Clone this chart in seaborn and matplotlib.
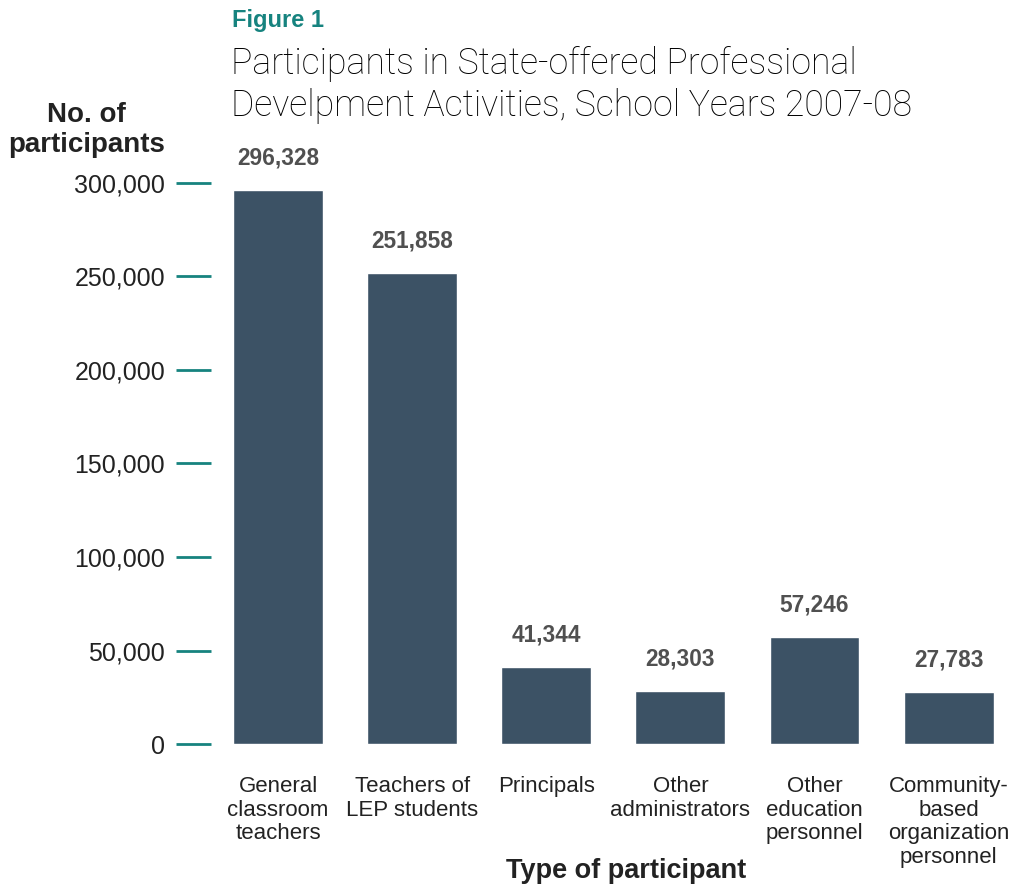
import matplotlib
matplotlib.use("Agg")
import matplotlib.pyplot as plt
import seaborn as sns
import pandas as pd

categories = ["General\nclassroom\nteachers", "Teachers of\nLEP students", "Principals",
              "Other\nadministrators", "Other\neducation\npersonnel",
              "Community-\nbased\norganization\npersonnel"]
values = [296328, 251858, 41344, 28303, 57246, 27783]
yticks = [0, 50000, 100000, 150000, 200000, 250000, 300000]
ytick_labels = ["0", "50,000", "100,000", "150,000", "200,000", "250,000", "300,000"]

sns.set_style("white")
plt.rcParams['font.family'] = ['Liberation Sans', 'DejaVu Sans']

BAR = "#3c5265"
TEAL = "#16837f"

df = pd.DataFrame({"cat": categories, "val": values})
fig = plt.figure(figsize=(10.12, 8.86), dpi=100)
ax = fig.add_axes([211/1012, 142/886, 798/1012, 561/886])
sns.barplot(data=df, x="cat", y="val", color=BAR, width=0.67, saturation=1, ax=ax)
ax.set_xlim(-0.5, 5.45)
ax.set_ylim(0, 300000)
for s in ax.spines.values():
    s.set_visible(False)
ax.set_yticks(yticks)
ax.set_yticklabels(ytick_labels, fontsize=18, color="#222222")
ax.tick_params(axis="y", length=25, width=2, color=TEAL, pad=8, direction="out", left=True)
ax.tick_params(axis="x", length=0, pad=23, labelsize=16, labelcolor="#222222")
for lab in ax.get_xticklabels():
    lab.set_linespacing(1.17)
    lab.set_verticalalignment("top")
ax.set_xlabel("Type of participant", fontsize=19.5, fontweight="bold", color="#222222")
ax.xaxis.label.set_verticalalignment("center")
ax.xaxis.set_label_coords(0.52, -(871 - 744) / 561, transform=ax.transAxes)
ax.set_ylabel("")
for i, v in enumerate(values):
    ax.text(i, v + 11000, f"{v:,}", ha="center", va="bottom", fontsize=16.3,
            fontweight="bold", color="#505050")

fig.text(232/1012, 1 - 21/886, "Figure 1", fontsize=17, fontweight="bold", color=TEAL,
         ha="left", va="center")
fig.text(231/1012, 1 - 85/886, "Participants in State-offered Professional\nDevelpment Activities, School Years 2007-08",
         fontsize=25.7, fontweight="light", family=["Roboto", "DejaVu Sans"], color="#000000",
         ha="left", va="center", linespacing=1.25)
fig.text(165/1012, 1 - 130/886, "No. of\nparticipants", fontsize=20, fontweight="bold",
         color="#222222", ha="right", va="center", multialignment="center", linespacing=1.15)

fig.savefig("out.png", dpi=100)
